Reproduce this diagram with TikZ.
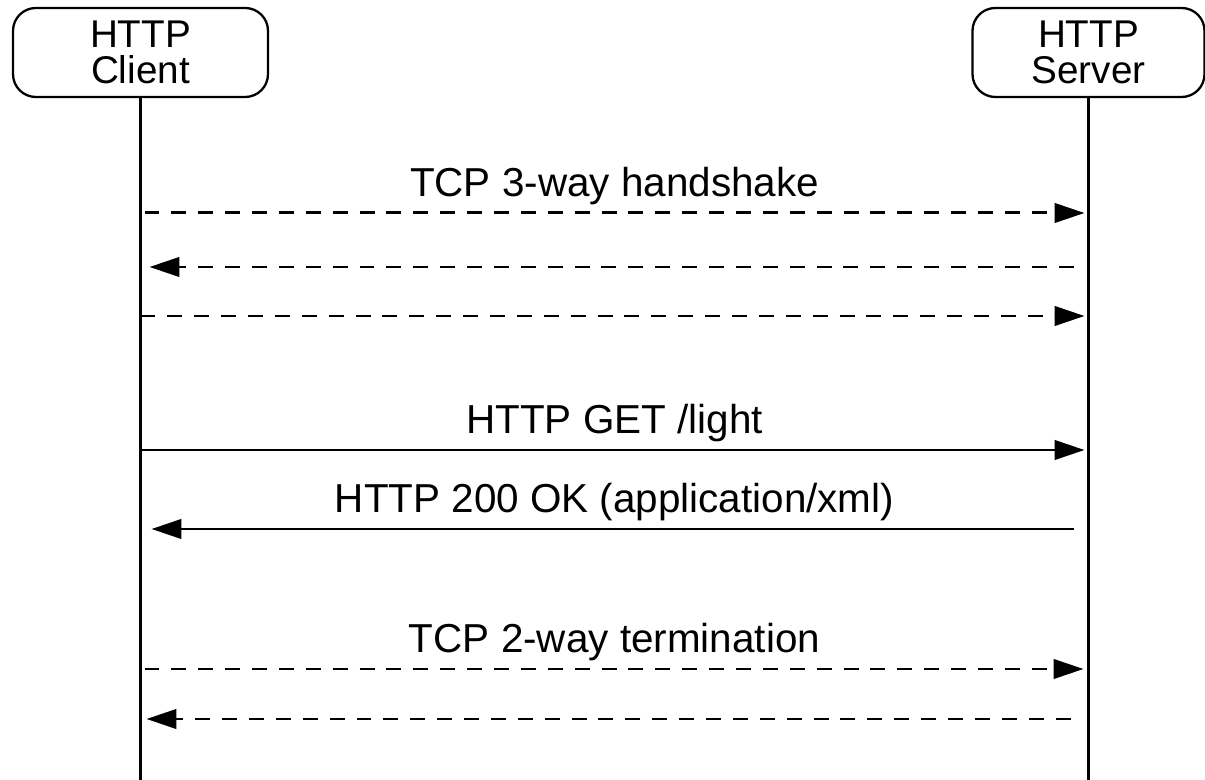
\documentclass[tikz,border=0pt]{standalone}
\usepackage{fontspec}
\setmainfont{Liberation Sans}
\usetikzlibrary{arrows.meta}

\begin{document}
\begin{tikzpicture}
    \tikzstyle{acteur}=[draw,line width=1.3pt,rounded corners=13pt,minimum height=1.78cm,align=center,font=\fontsize{22}{20.5}\selectfont]
    \tikzstyle{vie}=[line width=1.7pt]
    \tikzstyle{msg}=[-{Triangle[length=17pt,width=11pt]},line width=1.7pt]
    \tikzstyle{tiret}=[msg,dash pattern=on 8.5pt off 6.8pt]
    \tikzstyle{texte}=[above,inner sep=4pt,font=\fontsize{23}{27}\selectfont]
  \useasboundingbox (0,0) rectangle (24.1,-15.6);
  \node[acteur,minimum width=5.1cm] (client) at (2.81,-1.05) {HTTP\\Client};
  \node[acteur,minimum width=4.64cm] (serveur) at (21.77,-1.05) {HTTP\\Server};
  \coordinate (clientbas) at (2.81,-15.6);
  \coordinate (serveurbas) at (21.77,-15.6);
  \draw[vie] (client) -- (clientbas);
  \draw[vie] (serveur) -- (serveurbas);
  \draw[tiret,shorten <=0.08cm,shorten >=0.08cm] (client |- 0,-4.26) -- node[texte] (ouverture) {TCP 3-way handshake} (serveur |- 0,-4.26);
  \draw[tiret,shorten <=0.3cm,shorten >=0.18cm] (serveur |- 0,-5.34) -- (client |- 0,-5.34);
  \draw[tiret,shorten >=0.08cm] (client |- 0,-6.32) -- (serveur |- 0,-6.32);
  \draw[msg,shorten >=0.08cm] (client |- 0,-9) -- node[texte] (requete) {HTTP GET /light} (serveur |- 0,-9);
  \draw[msg,shorten <=0.3cm,shorten >=0.22cm] (serveur |- 0,-10.58) -- node[texte] (reponse) {HTTP 200 OK (application/xml)} (client |- 0,-10.58);
  \draw[tiret,shorten <=0.08cm,shorten >=0.1cm] (client |- 0,-13.38) -- node[texte] (fermeture) {TCP 2-way termination} (serveur |- 0,-13.38);
  \draw[tiret,shorten <=0.36cm,shorten >=0.12cm] (serveur |- 0,-14.38) -- (client |- 0,-14.38);
\end{tikzpicture}
\end{document}
